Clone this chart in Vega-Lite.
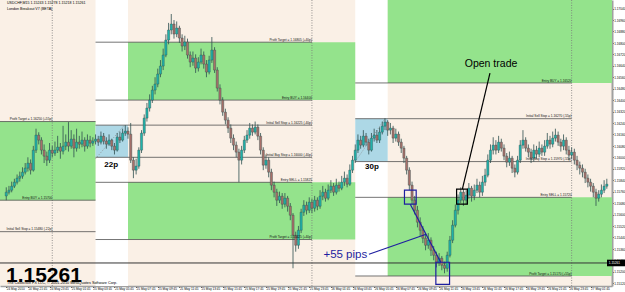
{
"$schema": "https://vega.github.io/schema/vega-lite/v6.json",
"width": 612, "height": 286,
"autosize": {"type": "none"},
"padding": {"left": 0, "top": 0, "right": 13, "bottom": 6},
"background": "#ffffff",
"resolve": {"axis": {"x": "independent", "y": "independent"}},
"config": {"font": "Liberation Sans", "view": {"stroke": null, "fill": "#FAF0E6"},
"axis": {"title": null, "grid": false, "labelFontSize": 3.1, "labelPadding": 0.2, "labelColor": "#000000", "labelOverlap": false, "labelFlush": false, "tickSize": 1.5, "tickColor": "#555555", "domainColor": "#a0a0a0"}},
"datasets": {
"zones": [
{"kind":"white","x1":"2010-05-25T04:00","x2":"2010-05-25T07:00","p1":1.1500,"p2":1.1720},
{"kind":"white","x1":"2010-05-26T04:00","x2":"2010-05-26T07:00","p1":1.15170,"p2":1.1720},
{"kind":"green","x1":"2010-05-24T18:00","x2":"2010-05-25T04:00","p1":1.15700,"p2":1.16250},
{"kind":"green","x1":"2010-05-25T07:00","x2":"2010-05-26T04:00","p1":1.16400,"p2":1.16805},
{"kind":"green","x1":"2010-05-25T07:00","x2":"2010-05-26T04:00","p1":1.15425,"p2":1.15825},
{"kind":"green","x1":"2010-05-26T07:00","x2":"2010-05-27T06:00","p1":1.16520,"p2":1.1720},
{"kind":"green","x1":"2010-05-26T07:00","x2":"2010-05-27T06:00","p1":1.15170,"p2":1.15720},
{"kind":"blue","x1":"2010-05-25T04:00","x2":"2010-05-25T07:00","p1":1.16000,"p2":1.16225},
{"kind":"blue","x1":"2010-05-26T04:00","x2":"2010-05-26T07:00","p1":1.15970,"p2":1.16270}
],
"levels": [
{"x1":"2010-05-24T18:00","x2":"2010-05-25T04:00","lx":"2010-05-25T00:00","p":1.16250,"lab":"Profit Target = 1.16250 (+55p)"},
{"x1":"2010-05-24T18:00","x2":"2010-05-25T04:00","lx":"2010-05-25T00:00","p":1.15700,"lab":"Entry BUY = 1.15700"},
{"x1":"2010-05-24T18:00","x2":"2010-05-25T04:00","lx":"2010-05-25T00:00","p":1.15480,"lab":"Initial Sell Stop = 1.15480 (-22p)"},
{"x1":"2010-05-25T04:00","x2":"2010-05-26T00:00","lx":"2010-05-26T00:00","p":1.16805,"lab":"Profit Target = 1.16805 (+40p)"},
{"x1":"2010-05-25T04:00","x2":"2010-05-26T00:00","lx":"2010-05-26T00:00","p":1.16400,"lab":"Entry BUY = 1.16400"},
{"x1":"2010-05-25T04:00","x2":"2010-05-26T00:00","lx":"2010-05-26T00:00","p":1.16225,"lab":"Initial Sell Stop = 1.16225 (-40p)"},
{"x1":"2010-05-25T04:00","x2":"2010-05-26T00:00","lx":"2010-05-26T00:00","p":1.16000,"lab":"Initial Buy Stop = 1.16000 (-40p)"},
{"x1":"2010-05-25T04:00","x2":"2010-05-26T00:00","lx":"2010-05-26T00:00","p":1.15825,"lab":"Entry SELL = 1.15825"},
{"x1":"2010-05-25T04:00","x2":"2010-05-26T00:00","lx":"2010-05-26T00:00","p":1.15425,"lab":"Profit Target = 1.15425 (+40p)"},
{"x1":"2010-05-26T04:00","x2":"2010-05-27T00:00","lx":"2010-05-27T00:00","p":1.16520,"lab":"Entry BUY = 1.16520"},
{"x1":"2010-05-26T04:00","x2":"2010-05-27T00:00","lx":"2010-05-27T00:00","p":1.16270,"lab":"Initial Sell Stop = 1.16270 (-55p)"},
{"x1":"2010-05-26T04:00","x2":"2010-05-27T00:00","lx":"2010-05-27T00:00","p":1.15970,"lab":"Initial Buy Stop = 1.15970 (-55p)"},
{"x1":"2010-05-26T04:00","x2":"2010-05-27T00:00","lx":"2010-05-27T00:00","p":1.15720,"lab":"Entry SELL = 1.15720"},
{"x1":"2010-05-26T04:00","x2":"2010-05-27T00:00","lx":"2010-05-27T00:00","p":1.15170,"lab":"Profit Target = 1.15170 (+55p)"}
],
"candles": [
{"t":"2010-05-24T19:45","o":1.15730,"h":1.15790,"l":1.15700,"c":1.15756},
{"t":"2010-05-24T20:00","o":1.15756,"h":1.15800,"l":1.15740,"c":1.15770},
{"t":"2010-05-24T20:15","o":1.15770,"h":1.15830,"l":1.15755,"c":1.15798},
{"t":"2010-05-24T20:30","o":1.15798,"h":1.15850,"l":1.15785,"c":1.15826},
{"t":"2010-05-24T20:45","o":1.15826,"h":1.15880,"l":1.15810,"c":1.15854},
{"t":"2010-05-24T21:00","o":1.15854,"h":1.15900,"l":1.15830,"c":1.15868},
{"t":"2010-05-24T21:15","o":1.15868,"h":1.15930,"l":1.15850,"c":1.15896},
{"t":"2010-05-24T21:30","o":1.15896,"h":1.15960,"l":1.15880,"c":1.15924},
{"t":"2010-05-24T21:45","o":1.15924,"h":1.16000,"l":1.15900,"c":1.15959},
{"t":"2010-05-24T22:00","o":1.15959,"h":1.15985,"l":1.15880,"c":1.15910},
{"t":"2010-05-24T22:15","o":1.15910,"h":1.16080,"l":1.15900,"c":1.16050},
{"t":"2010-05-24T22:30","o":1.16050,"h":1.16200,"l":1.16030,"c":1.16155},
{"t":"2010-05-24T22:45","o":1.16155,"h":1.16175,"l":1.16090,"c":1.16120},
{"t":"2010-05-24T23:00","o":1.16120,"h":1.16140,"l":1.16020,"c":1.16050},
{"t":"2010-05-24T23:15","o":1.16050,"h":1.16090,"l":1.15960,"c":1.16008},
{"t":"2010-05-24T23:30","o":1.16008,"h":1.16040,"l":1.15940,"c":1.15980},
{"t":"2010-05-24T23:45","o":1.15980,"h":1.16100,"l":1.15960,"c":1.16050},
{"t":"2010-05-25T00:00","o":1.16050,"h":1.16080,"l":1.16000,"c":1.16029},
{"t":"2010-05-25T00:15","o":1.16029,"h":1.16110,"l":1.16010,"c":1.16050},
{"t":"2010-05-25T00:30","o":1.16050,"h":1.16150,"l":1.16030,"c":1.16071},
{"t":"2010-05-25T00:45","o":1.16071,"h":1.16100,"l":1.15990,"c":1.16043},
{"t":"2010-05-25T01:00","o":1.16043,"h":1.16220,"l":1.16020,"c":1.16078},
{"t":"2010-05-25T01:15","o":1.16078,"h":1.16160,"l":1.16050,"c":1.16106},
{"t":"2010-05-25T01:30","o":1.16106,"h":1.16246,"l":1.16040,"c":1.16078},
{"t":"2010-05-25T01:45","o":1.16078,"h":1.16190,"l":1.16060,"c":1.16127},
{"t":"2010-05-25T02:00","o":1.16127,"h":1.16160,"l":1.16000,"c":1.16064},
{"t":"2010-05-25T02:15","o":1.16064,"h":1.16200,"l":1.16040,"c":1.16106},
{"t":"2010-05-25T02:30","o":1.16106,"h":1.16150,"l":1.16060,"c":1.16092},
{"t":"2010-05-25T02:45","o":1.16092,"h":1.16180,"l":1.16070,"c":1.16120},
{"t":"2010-05-25T03:00","o":1.16120,"h":1.16140,"l":1.16040,"c":1.16078},
{"t":"2010-05-25T03:15","o":1.16078,"h":1.16160,"l":1.16060,"c":1.16120},
{"t":"2010-05-25T03:30","o":1.16120,"h":1.16150,"l":1.16070,"c":1.16099},
{"t":"2010-05-25T03:45","o":1.16099,"h":1.16140,"l":1.16080,"c":1.16113},
{"t":"2010-05-25T04:00","o":1.16113,"h":1.16160,"l":1.16090,"c":1.16127},
{"t":"2010-05-25T04:15","o":1.16127,"h":1.16150,"l":1.16080,"c":1.16106},
{"t":"2010-05-25T04:30","o":1.16106,"h":1.16180,"l":1.16090,"c":1.16148},
{"t":"2010-05-25T04:45","o":1.16148,"h":1.16170,"l":1.16090,"c":1.16113},
{"t":"2010-05-25T05:00","o":1.16113,"h":1.16140,"l":1.16060,"c":1.16092},
{"t":"2010-05-25T05:15","o":1.16092,"h":1.16160,"l":1.16080,"c":1.16120},
{"t":"2010-05-25T05:30","o":1.16120,"h":1.16130,"l":1.16050,"c":1.16078},
{"t":"2010-05-25T05:45","o":1.16078,"h":1.16100,"l":1.16020,"c":1.16050},
{"t":"2010-05-25T06:00","o":1.16050,"h":1.16170,"l":1.16040,"c":1.16141},
{"t":"2010-05-25T06:15","o":1.16141,"h":1.16180,"l":1.16100,"c":1.16120},
{"t":"2010-05-25T06:30","o":1.16120,"h":1.16200,"l":1.16110,"c":1.16169},
{"t":"2010-05-25T06:45","o":1.16169,"h":1.16225,"l":1.16150,"c":1.16183},
{"t":"2010-05-25T07:00","o":1.16183,"h":1.16210,"l":1.16130,"c":1.16162},
{"t":"2010-05-25T07:15","o":1.16162,"h":1.16240,"l":1.15960,"c":1.15980},
{"t":"2010-05-25T07:30","o":1.15980,"h":1.16000,"l":1.15854,"c":1.15910},
{"t":"2010-05-25T07:45","o":1.15910,"h":1.15990,"l":1.15880,"c":1.15938},
{"t":"2010-05-25T08:00","o":1.15938,"h":1.16070,"l":1.15920,"c":1.16050},
{"t":"2010-05-25T08:15","o":1.16050,"h":1.16190,"l":1.16030,"c":1.16169},
{"t":"2010-05-25T08:30","o":1.16169,"h":1.16300,"l":1.16150,"c":1.16274},
{"t":"2010-05-25T08:45","o":1.16274,"h":1.16380,"l":1.16250,"c":1.16344},
{"t":"2010-05-25T09:00","o":1.16344,"h":1.16440,"l":1.16320,"c":1.16400},
{"t":"2010-05-25T09:15","o":1.16400,"h":1.16500,"l":1.16380,"c":1.16470},
{"t":"2010-05-25T09:30","o":1.16470,"h":1.16560,"l":1.16440,"c":1.16512},
{"t":"2010-05-25T09:45","o":1.16512,"h":1.16620,"l":1.16490,"c":1.16582},
{"t":"2010-05-25T10:00","o":1.16582,"h":1.16680,"l":1.16560,"c":1.16638},
{"t":"2010-05-25T10:15","o":1.16638,"h":1.16760,"l":1.16610,"c":1.16715},
{"t":"2010-05-25T10:30","o":1.16715,"h":1.16860,"l":1.16700,"c":1.16820},
{"t":"2010-05-25T10:45","o":1.16820,"h":1.16940,"l":1.16790,"c":1.16890},
{"t":"2010-05-25T11:00","o":1.16890,"h":1.17002,"l":1.16860,"c":1.16932},
{"t":"2010-05-25T11:15","o":1.16932,"h":1.16960,"l":1.16830,"c":1.16862},
{"t":"2010-05-25T11:30","o":1.16862,"h":1.16950,"l":1.16840,"c":1.16904},
{"t":"2010-05-25T11:45","o":1.16904,"h":1.16920,"l":1.16800,"c":1.16834},
{"t":"2010-05-25T12:00","o":1.16834,"h":1.16860,"l":1.16740,"c":1.16778},
{"t":"2010-05-25T12:15","o":1.16778,"h":1.16850,"l":1.16750,"c":1.16806},
{"t":"2010-05-25T12:30","o":1.16806,"h":1.16830,"l":1.16690,"c":1.16715},
{"t":"2010-05-25T12:45","o":1.16715,"h":1.16740,"l":1.16630,"c":1.16666},
{"t":"2010-05-25T13:00","o":1.16666,"h":1.16740,"l":1.16640,"c":1.16694},
{"t":"2010-05-25T13:15","o":1.16694,"h":1.16720,"l":1.16590,"c":1.16624},
{"t":"2010-05-25T13:30","o":1.16624,"h":1.16700,"l":1.16600,"c":1.16666},
{"t":"2010-05-25T13:45","o":1.16666,"h":1.16760,"l":1.16650,"c":1.16715},
{"t":"2010-05-25T14:00","o":1.16715,"h":1.16740,"l":1.16620,"c":1.16652},
{"t":"2010-05-25T14:15","o":1.16652,"h":1.16680,"l":1.16560,"c":1.16596},
{"t":"2010-05-25T14:30","o":1.16596,"h":1.16710,"l":1.16580,"c":1.16680},
{"t":"2010-05-25T14:45","o":1.16680,"h":1.16841,"l":1.16660,"c":1.16750},
{"t":"2010-05-25T15:00","o":1.16750,"h":1.16770,"l":1.16590,"c":1.16610},
{"t":"2010-05-25T15:15","o":1.16610,"h":1.16630,"l":1.16460,"c":1.16484},
{"t":"2010-05-25T15:30","o":1.16484,"h":1.16510,"l":1.16370,"c":1.16400},
{"t":"2010-05-25T15:45","o":1.16400,"h":1.16420,"l":1.16290,"c":1.16316},
{"t":"2010-05-25T16:00","o":1.16316,"h":1.16340,"l":1.16230,"c":1.16260},
{"t":"2010-05-25T16:15","o":1.16260,"h":1.16280,"l":1.16170,"c":1.16204},
{"t":"2010-05-25T16:30","o":1.16204,"h":1.16230,"l":1.16100,"c":1.16134},
{"t":"2010-05-25T16:45","o":1.16134,"h":1.16160,"l":1.16050,"c":1.16085},
{"t":"2010-05-25T17:00","o":1.16085,"h":1.16110,"l":1.16000,"c":1.16036},
{"t":"2010-05-25T17:15","o":1.16036,"h":1.16060,"l":1.15826,"c":1.15980},
{"t":"2010-05-25T17:30","o":1.15980,"h":1.16080,"l":1.15950,"c":1.16050},
{"t":"2010-05-25T17:45","o":1.16050,"h":1.16150,"l":1.16030,"c":1.16120},
{"t":"2010-05-25T18:00","o":1.16120,"h":1.16190,"l":1.16100,"c":1.16155},
{"t":"2010-05-25T18:15","o":1.16155,"h":1.16240,"l":1.16130,"c":1.16204},
{"t":"2010-05-25T18:30","o":1.16204,"h":1.16230,"l":1.16150,"c":1.16176},
{"t":"2010-05-25T18:45","o":1.16176,"h":1.16250,"l":1.16160,"c":1.16211},
{"t":"2010-05-25T19:00","o":1.16211,"h":1.16230,"l":1.16120,"c":1.16148},
{"t":"2010-05-25T19:15","o":1.16148,"h":1.16170,"l":1.16020,"c":1.16050},
{"t":"2010-05-25T19:30","o":1.16050,"h":1.16070,"l":1.15910,"c":1.15945},
{"t":"2010-05-25T19:45","o":1.15945,"h":1.16020,"l":1.15920,"c":1.15980},
{"t":"2010-05-25T20:00","o":1.15980,"h":1.16000,"l":1.15860,"c":1.15896},
{"t":"2010-05-25T20:15","o":1.15896,"h":1.15920,"l":1.15770,"c":1.15805},
{"t":"2010-05-25T20:30","o":1.15805,"h":1.15830,"l":1.15720,"c":1.15756},
{"t":"2010-05-25T20:45","o":1.15756,"h":1.15780,"l":1.15660,"c":1.15700},
{"t":"2010-05-25T21:00","o":1.15700,"h":1.15760,"l":1.15680,"c":1.15728},
{"t":"2010-05-25T21:15","o":1.15728,"h":1.15750,"l":1.15640,"c":1.15672},
{"t":"2010-05-25T21:30","o":1.15672,"h":1.15750,"l":1.15650,"c":1.15714},
{"t":"2010-05-25T21:45","o":1.15714,"h":1.15730,"l":1.15620,"c":1.15658},
{"t":"2010-05-25T22:00","o":1.15658,"h":1.15680,"l":1.15560,"c":1.15595},
{"t":"2010-05-25T22:15","o":1.15595,"h":1.15610,"l":1.15224,"c":1.15455},
{"t":"2010-05-25T22:30","o":1.15455,"h":1.15480,"l":1.15340,"c":1.15385},
{"t":"2010-05-25T22:45","o":1.15385,"h":1.15520,"l":1.15360,"c":1.15490},
{"t":"2010-05-25T23:00","o":1.15490,"h":1.15640,"l":1.15470,"c":1.15616},
{"t":"2010-05-25T23:15","o":1.15616,"h":1.15700,"l":1.15590,"c":1.15665},
{"t":"2010-05-25T23:30","o":1.15665,"h":1.15690,"l":1.15600,"c":1.15630},
{"t":"2010-05-25T23:45","o":1.15630,"h":1.15720,"l":1.15610,"c":1.15686},
{"t":"2010-05-26T00:00","o":1.15686,"h":1.15710,"l":1.15610,"c":1.15644},
{"t":"2010-05-26T00:15","o":1.15644,"h":1.15730,"l":1.15620,"c":1.15700},
{"t":"2010-05-26T00:30","o":1.15700,"h":1.15720,"l":1.15630,"c":1.15658},
{"t":"2010-05-26T00:45","o":1.15658,"h":1.15770,"l":1.15640,"c":1.15728},
{"t":"2010-05-26T01:00","o":1.15728,"h":1.15800,"l":1.15700,"c":1.15756},
{"t":"2010-05-26T01:15","o":1.15756,"h":1.15780,"l":1.15690,"c":1.15714},
{"t":"2010-05-26T01:30","o":1.15714,"h":1.15810,"l":1.15700,"c":1.15770},
{"t":"2010-05-26T01:45","o":1.15770,"h":1.15840,"l":1.15750,"c":1.15798},
{"t":"2010-05-26T02:00","o":1.15798,"h":1.15820,"l":1.15730,"c":1.15756},
{"t":"2010-05-26T02:15","o":1.15756,"h":1.15850,"l":1.15740,"c":1.15805},
{"t":"2010-05-26T02:30","o":1.15805,"h":1.15830,"l":1.15760,"c":1.15784},
{"t":"2010-05-26T02:45","o":1.15784,"h":1.15870,"l":1.15770,"c":1.15826},
{"t":"2010-05-26T03:00","o":1.15826,"h":1.15900,"l":1.15800,"c":1.15854},
{"t":"2010-05-26T03:15","o":1.15854,"h":1.15880,"l":1.15790,"c":1.15812},
{"t":"2010-05-26T03:30","o":1.15812,"h":1.15950,"l":1.15800,"c":1.15910},
{"t":"2010-05-26T03:45","o":1.15910,"h":1.16010,"l":1.15890,"c":1.15980},
{"t":"2010-05-26T04:00","o":1.15980,"h":1.16090,"l":1.15960,"c":1.16050},
{"t":"2010-05-26T04:15","o":1.16050,"h":1.16160,"l":1.16030,"c":1.16120},
{"t":"2010-05-26T04:30","o":1.16120,"h":1.16150,"l":1.16060,"c":1.16085},
{"t":"2010-05-26T04:45","o":1.16085,"h":1.16190,"l":1.16070,"c":1.16148},
{"t":"2010-05-26T05:00","o":1.16148,"h":1.16170,"l":1.16080,"c":1.16106},
{"t":"2010-05-26T05:15","o":1.16106,"h":1.16130,"l":1.16020,"c":1.16050},
{"t":"2010-05-26T05:30","o":1.16050,"h":1.16170,"l":1.16040,"c":1.16134},
{"t":"2010-05-26T05:45","o":1.16134,"h":1.16200,"l":1.16110,"c":1.16155},
{"t":"2010-05-26T06:00","o":1.16155,"h":1.16190,"l":1.16100,"c":1.16120},
{"t":"2010-05-26T06:15","o":1.16120,"h":1.16210,"l":1.16100,"c":1.16176},
{"t":"2010-05-26T06:30","o":1.16176,"h":1.16250,"l":1.16160,"c":1.16218},
{"t":"2010-05-26T06:45","o":1.16218,"h":1.16274,"l":1.16190,"c":1.16246},
{"t":"2010-05-26T07:00","o":1.16246,"h":1.16260,"l":1.16150,"c":1.16190},
{"t":"2010-05-26T07:15","o":1.16190,"h":1.16240,"l":1.16160,"c":1.16204},
{"t":"2010-05-26T07:30","o":1.16204,"h":1.16220,"l":1.16100,"c":1.16134},
{"t":"2010-05-26T07:45","o":1.16134,"h":1.16200,"l":1.16110,"c":1.16162},
{"t":"2010-05-26T08:00","o":1.16162,"h":1.16180,"l":1.16080,"c":1.16106},
{"t":"2010-05-26T08:15","o":1.16106,"h":1.16130,"l":1.16030,"c":1.16064},
{"t":"2010-05-26T08:30","o":1.16064,"h":1.16080,"l":1.15960,"c":1.15994},
{"t":"2010-05-26T08:45","o":1.15994,"h":1.16010,"l":1.15880,"c":1.15910},
{"t":"2010-05-26T09:00","o":1.15910,"h":1.15930,"l":1.15770,"c":1.15805},
{"t":"2010-05-26T09:15","o":1.15805,"h":1.15830,"l":1.15670,"c":1.15700},
{"t":"2010-05-26T09:30","o":1.15700,"h":1.15730,"l":1.15600,"c":1.15630},
{"t":"2010-05-26T09:45","o":1.15630,"h":1.15660,"l":1.15510,"c":1.15546},
{"t":"2010-05-26T10:00","o":1.15546,"h":1.15580,"l":1.15450,"c":1.15490},
{"t":"2010-05-26T10:15","o":1.15490,"h":1.15520,"l":1.15400,"c":1.15434},
{"t":"2010-05-26T10:30","o":1.15434,"h":1.15460,"l":1.15350,"c":1.15385},
{"t":"2010-05-26T10:45","o":1.15385,"h":1.15470,"l":1.15360,"c":1.15420},
{"t":"2010-05-26T11:00","o":1.15420,"h":1.15440,"l":1.15310,"c":1.15350},
{"t":"2010-05-26T11:15","o":1.15350,"h":1.15380,"l":1.15280,"c":1.15315},
{"t":"2010-05-26T11:30","o":1.15315,"h":1.15340,"l":1.15230,"c":1.15266},
{"t":"2010-05-26T11:45","o":1.15266,"h":1.15330,"l":1.15240,"c":1.15294},
{"t":"2010-05-26T12:00","o":1.15294,"h":1.15310,"l":1.15210,"c":1.15245},
{"t":"2010-05-26T12:15","o":1.15245,"h":1.15270,"l":1.15189,"c":1.15224},
{"t":"2010-05-26T12:30","o":1.15224,"h":1.15340,"l":1.15200,"c":1.15315},
{"t":"2010-05-26T12:45","o":1.15315,"h":1.15450,"l":1.15300,"c":1.15420},
{"t":"2010-05-26T13:00","o":1.15420,"h":1.15560,"l":1.15400,"c":1.15525},
{"t":"2010-05-26T13:15","o":1.15525,"h":1.15670,"l":1.15510,"c":1.15630},
{"t":"2010-05-26T13:30","o":1.15630,"h":1.15740,"l":1.15600,"c":1.15700},
{"t":"2010-05-26T13:45","o":1.15700,"h":1.15790,"l":1.15680,"c":1.15756},
{"t":"2010-05-26T14:00","o":1.15756,"h":1.15780,"l":1.15660,"c":1.15700},
{"t":"2010-05-26T14:15","o":1.15700,"h":1.15770,"l":1.15670,"c":1.15735},
{"t":"2010-05-26T14:30","o":1.15735,"h":1.15820,"l":1.15710,"c":1.15784},
{"t":"2010-05-26T14:45","o":1.15784,"h":1.15800,"l":1.15690,"c":1.15728},
{"t":"2010-05-26T15:00","o":1.15728,"h":1.15810,"l":1.15700,"c":1.15770},
{"t":"2010-05-26T15:15","o":1.15770,"h":1.15850,"l":1.15750,"c":1.15805},
{"t":"2010-05-26T15:30","o":1.15805,"h":1.15830,"l":1.15720,"c":1.15756},
{"t":"2010-05-26T15:45","o":1.15756,"h":1.15870,"l":1.15730,"c":1.15826},
{"t":"2010-05-26T16:00","o":1.15826,"h":1.15920,"l":1.15800,"c":1.15875},
{"t":"2010-05-26T16:15","o":1.15875,"h":1.16020,"l":1.15860,"c":1.15980},
{"t":"2010-05-26T16:30","o":1.15980,"h":1.16090,"l":1.15960,"c":1.16050},
{"t":"2010-05-26T16:45","o":1.16050,"h":1.16140,"l":1.16020,"c":1.16085},
{"t":"2010-05-26T17:00","o":1.16085,"h":1.16120,"l":1.16020,"c":1.16050},
{"t":"2010-05-26T17:15","o":1.16050,"h":1.16150,"l":1.16030,"c":1.16106},
{"t":"2010-05-26T17:30","o":1.16106,"h":1.16130,"l":1.16040,"c":1.16064},
{"t":"2010-05-26T17:45","o":1.16064,"h":1.16090,"l":1.15980,"c":1.16008},
{"t":"2010-05-26T18:00","o":1.16008,"h":1.16030,"l":1.15930,"c":1.15966},
{"t":"2010-05-26T18:15","o":1.15966,"h":1.16040,"l":1.15940,"c":1.15994},
{"t":"2010-05-26T18:30","o":1.15994,"h":1.16010,"l":1.15890,"c":1.15924},
{"t":"2010-05-26T18:45","o":1.15924,"h":1.15950,"l":1.15860,"c":1.15896},
{"t":"2010-05-26T19:00","o":1.15896,"h":1.16010,"l":1.15880,"c":1.15980},
{"t":"2010-05-26T19:15","o":1.15980,"h":1.16120,"l":1.15960,"c":1.16085},
{"t":"2010-05-26T19:30","o":1.16085,"h":1.16190,"l":1.16060,"c":1.16120},
{"t":"2010-05-26T19:45","o":1.16120,"h":1.16140,"l":1.16040,"c":1.16064},
{"t":"2010-05-26T20:00","o":1.16064,"h":1.16090,"l":1.16000,"c":1.16036},
{"t":"2010-05-26T20:15","o":1.16036,"h":1.16060,"l":1.15960,"c":1.15994},
{"t":"2010-05-26T20:30","o":1.15994,"h":1.16090,"l":1.15970,"c":1.16050},
{"t":"2010-05-26T20:45","o":1.16050,"h":1.16080,"l":1.15990,"c":1.16022},
{"t":"2010-05-26T21:00","o":1.16022,"h":1.16110,"l":1.16000,"c":1.16064},
{"t":"2010-05-26T21:15","o":1.16064,"h":1.16090,"l":1.16010,"c":1.16036},
{"t":"2010-05-26T21:30","o":1.16036,"h":1.16120,"l":1.16010,"c":1.16078},
{"t":"2010-05-26T21:45","o":1.16078,"h":1.16170,"l":1.16060,"c":1.16120},
{"t":"2010-05-26T22:00","o":1.16120,"h":1.16150,"l":1.16060,"c":1.16092},
{"t":"2010-05-26T22:15","o":1.16092,"h":1.16180,"l":1.16070,"c":1.16134},
{"t":"2010-05-26T22:30","o":1.16134,"h":1.16200,"l":1.16110,"c":1.16155},
{"t":"2010-05-26T22:45","o":1.16155,"h":1.16180,"l":1.16080,"c":1.16106},
{"t":"2010-05-26T23:00","o":1.16106,"h":1.16130,"l":1.16040,"c":1.16078},
{"t":"2010-05-26T23:15","o":1.16078,"h":1.16160,"l":1.16050,"c":1.16120},
{"t":"2010-05-26T23:30","o":1.16120,"h":1.16140,"l":1.16020,"c":1.16050},
{"t":"2010-05-26T23:45","o":1.16050,"h":1.16080,"l":1.15980,"c":1.16015},
{"t":"2010-05-27T00:00","o":1.16015,"h":1.16070,"l":1.15990,"c":1.16036},
{"t":"2010-05-27T00:15","o":1.16036,"h":1.16060,"l":1.15950,"c":1.15980},
{"t":"2010-05-27T00:30","o":1.15980,"h":1.16010,"l":1.15910,"c":1.15945},
{"t":"2010-05-27T00:45","o":1.15945,"h":1.15970,"l":1.15880,"c":1.15924},
{"t":"2010-05-27T01:00","o":1.15924,"h":1.15950,"l":1.15860,"c":1.15896},
{"t":"2010-05-27T01:15","o":1.15896,"h":1.15920,"l":1.15820,"c":1.15854},
{"t":"2010-05-27T01:30","o":1.15854,"h":1.15880,"l":1.15790,"c":1.15826},
{"t":"2010-05-27T01:45","o":1.15826,"h":1.15850,"l":1.15760,"c":1.15798},
{"t":"2010-05-27T02:00","o":1.15798,"h":1.15820,"l":1.15720,"c":1.15756},
{"t":"2010-05-27T02:15","o":1.15756,"h":1.15780,"l":1.15660,"c":1.15714},
{"t":"2010-05-27T02:30","o":1.15714,"h":1.15770,"l":1.15690,"c":1.15742},
{"t":"2010-05-27T02:45","o":1.15742,"h":1.15810,"l":1.15720,"c":1.15770},
{"t":"2010-05-27T03:00","o":1.15770,"h":1.15840,"l":1.15750,"c":1.15798},
{"t":"2010-05-27T03:15","o":1.15798,"h":1.15850,"l":1.15780,"c":1.15812}
]
},
"layer": [
{
"data": {"name": "zones"},
"mark": {"type": "rect", "clip": true},
"encoding": {
"x": {"field": "x1", "type": "temporal",
"scale": {"domain": [{"year":2010,"month":5,"date":24,"hours":19,"minutes":38},{"year":2010,"month":5,"date":27,"hours":3,"minutes":16}]},
"axis": {"orient": "bottom", "title": null, "labelOverlap": false, "labelFlush": false, "labelBound": false,
"values": [
{"year":2010,"month":5,"date":24,"hours":19,"minutes":45},
{"year":2010,"month":5,"date":24,"hours":21,"minutes":45},
{"year":2010,"month":5,"date":24,"hours":23,"minutes":45},
{"year":2010,"month":5,"date":25,"hours":1,"minutes":45},
{"year":2010,"month":5,"date":25,"hours":3,"minutes":45},
{"year":2010,"month":5,"date":25,"hours":5,"minutes":45},
{"year":2010,"month":5,"date":25,"hours":7,"minutes":45},
{"year":2010,"month":5,"date":25,"hours":9,"minutes":45},
{"year":2010,"month":5,"date":25,"hours":11,"minutes":45},
{"year":2010,"month":5,"date":25,"hours":13,"minutes":45},
{"year":2010,"month":5,"date":25,"hours":15,"minutes":45},
{"year":2010,"month":5,"date":25,"hours":17,"minutes":45},
{"year":2010,"month":5,"date":25,"hours":19,"minutes":45},
{"year":2010,"month":5,"date":25,"hours":21,"minutes":45},
{"year":2010,"month":5,"date":25,"hours":23,"minutes":45},
{"year":2010,"month":5,"date":26,"hours":1,"minutes":45},
{"year":2010,"month":5,"date":26,"hours":3,"minutes":45},
{"year":2010,"month":5,"date":26,"hours":5,"minutes":45},
{"year":2010,"month":5,"date":26,"hours":7,"minutes":45},
{"year":2010,"month":5,"date":26,"hours":9,"minutes":45},
{"year":2010,"month":5,"date":26,"hours":11,"minutes":45},
{"year":2010,"month":5,"date":26,"hours":13,"minutes":45},
{"year":2010,"month":5,"date":26,"hours":15,"minutes":45},
{"year":2010,"month":5,"date":26,"hours":17,"minutes":45},
{"year":2010,"month":5,"date":26,"hours":19,"minutes":45},
{"year":2010,"month":5,"date":26,"hours":21,"minutes":45},
{"year":2010,"month":5,"date":26,"hours":23,"minutes":45},
{"year":2010,"month":5,"date":27,"hours":1,"minutes":45}
],
"format": "%d %b %H:%M",
"labelExpr": "timeFormat(datum.value, '%d %H:%M') == '24 19:45' ? '24 May 2010' : timeFormat(datum.value, '%d %b %H:%M')",
"labelAlign": "left", "domainWidth": 1.5}},
"x2": {"field": "x2"},
"y": {"field": "p1", "type": "quantitative",
"scale": {"domain": [1.151, 1.171], "nice": false, "zero": false},
"axis": {"orient": "right", "title": null, "labelOverlap": false, "labelFlush": false, "labelBound": false,
"values": [1.1512,1.1520,1.1528,1.1536,1.1544,1.1552,1.1560,1.1568,1.1576,1.1584,1.1592,1.1600,1.1608,1.1616,1.1624,1.1632,1.1640,1.1648,1.1656,1.1664,1.1672,1.1680,1.1688,1.1696,1.1704],
"format": ".5f", "domainWidth": 2}},
"y2": {"field": "p2"},
"color": {"field": "kind", "type": "nominal",
"scale": {"domain": ["white", "green", "blue"], "range": ["#ffffff", "#94E38C", "#ADD8E6"]}, "legend": null}
}
},
{
"data": {"values": [
{"x1":"2010-05-25T04:00","x2":"2010-05-25T06:40","p1":1.15990,"p2":1.16225},
{"x1":"2010-05-26T04:00","x2":"2010-05-26T06:45","p1":1.15970,"p2":1.16270}
]},
"mark": {"type": "rule", "color": "#8a8a8a", "strokeDash": [1, 1.5], "strokeWidth": 0.8, "clip": true},
"encoding": {
"x": {"field": "x1", "type": "temporal", "axis": null},
"x2": {"field": "x2"},
"y": {"field": "p1", "type": "quantitative", "axis": null},
"y2": {"field": "p2"}
}
},
{
"data": {"values": [{"t":"2010-05-25T00:00"},{"t":"2010-05-26T00:00"},{"t":"2010-05-27T00:00"}]},
"mark": {"type": "rule", "color": "#7a7a7a", "strokeDash": [1, 1.5], "strokeWidth": 0.8},
"encoding": {"x": {"field": "t", "type": "temporal", "axis": null}}
},
{
"data": {"name": "levels"},
"mark": {"type": "rule", "color": "#505050", "strokeWidth": 0.8, "clip": true},
"encoding": {
"x": {"field": "x1", "type": "temporal", "axis": null},
"x2": {"field": "x2"},
"y": {"field": "p", "type": "quantitative", "axis": null}
}
},
{
"data": {"values": [{"p": 1.15261}]},
"mark": {"type": "rule", "color": "#333333", "strokeWidth": 1},
"encoding": {"y": {"field": "p", "type": "quantitative", "axis": null}}
},
{
"data": {"name": "candles"},
"mark": {"type": "rule", "color": "#2F4F4F", "strokeWidth": 0.8, "clip": true},
"encoding": {
"x": {"field": "t", "type": "temporal", "axis": null},
"y": {"field": "l", "type": "quantitative", "axis": null},
"y2": {"field": "h"}
}
},
{
"data": {"name": "candles"},
"mark": {"type": "bar", "width": 2.2, "stroke": "#2F4F4F", "strokeWidth": 0.4, "clip": true},
"encoding": {
"x": {"field": "t", "type": "temporal", "axis": null},
"y": {"field": "o", "type": "quantitative", "axis": null},
"y2": {"field": "c"},
"color": {"condition": {"test": "datum.c >= datum.o", "value": "#20B2AA"}, "value": "#A8706A"}
}
},
{
"data": {"name": "levels"},
"mark": {"type": "text", "align": "right", "baseline": "bottom", "dy": -0.3, "fontSize": 3.2, "color": "#111111"},
"encoding": {
"x": {"field": "lx", "type": "temporal", "axis": null},
"y": {"field": "p", "type": "quantitative", "axis": null},
"text": {"field": "lab"}
}
},
{
"data": {"values": [
{"t":"2010-05-25T05:27","p":1.15945,"txt":"22p"},
{"t":"2010-05-26T05:33","p":1.15931,"txt":"30p"}
]},
"mark": {"type": "text", "fontSize": 8, "fontWeight": "bold", "color": "#000000", "baseline": "middle"},
"encoding": {
"x": {"field": "t", "type": "temporal", "axis": null},
"y": {"field": "p", "type": "quantitative", "axis": null},
"text": {"field": "txt"}
}
},
{
"data": {"values": [
{"k":"navy","x1":"2010-05-26T08:33","x2":"2010-05-26T09:38","p1":1.15672,"p2":1.15770},
{"k":"navy","x1":"2010-05-26T11:27","x2":"2010-05-26T12:43","p1":1.15112,"p2":1.15266},
{"k":"black","x1":"2010-05-26T13:22","x2":"2010-05-26T14:22","p1":1.15672,"p2":1.15777}
]},
"mark": {"type": "rect", "fill": "transparent", "strokeWidth": 1.2},
"encoding": {
"x": {"field": "x1", "type": "temporal", "axis": null},
"x2": {"field": "x2"},
"y": {"field": "p1", "type": "quantitative", "axis": null},
"y2": {"field": "p2"},
"stroke": {"field": "k", "type": "nominal", "scale": {"domain": ["navy", "black"], "range": ["#1E1EA0", "#000000"]}, "legend": null}
}
},
{
"data": {"values": [
{"k":"navy","x1":"2010-05-26T09:05","x2":"2010-05-26T11:54","p1":1.15672,"p2":1.15266},
{"k":"navy","x1":"2010-05-26T05:16","x2":"2010-05-26T10:33","p1":1.15322,"p2":1.15462},
{"k":"black","x1":"2010-05-26T16:27","x2":"2010-05-26T13:54","p1":1.16589,"p2":1.15777}
]},
"mark": {"type": "rule", "strokeWidth": 1.2},
"encoding": {
"x": {"field": "x1", "type": "temporal", "axis": null},
"x2": {"field": "x2"},
"y": {"field": "p1", "type": "quantitative", "axis": null},
"y2": {"field": "p2"},
"stroke": {"field": "k", "type": "nominal", "legend": null}
}
},
{
"data": {"values": [{"t":"2010-05-26T03:05","p":1.15315,"txt":"+55 pips"}]},
"mark": {"type": "text", "fontSize": 11.5, "color": "#1E1EA0", "baseline": "middle", "align": "center"},
"encoding": {
"x": {"field": "t", "type": "temporal", "axis": null},
"y": {"field": "p", "type": "quantitative", "axis": null},
"text": {"field": "txt"}
}
},
{
"data": {"values": [{"t":"2010-05-26T16:33","p":1.16652,"txt":"Open trade"}]},
"mark": {"type": "text", "fontSize": 10.5, "color": "#000000", "baseline": "middle", "align": "center"},
"encoding": {
"x": {"field": "t", "type": "temporal", "axis": null},
"y": {"field": "p", "type": "quantitative", "axis": null},
"text": {"field": "txt"}
}
},
{
"data": {"values": [
{"t":"2010-05-24T19:38","p":1.17079,"txt":"USDCHF,M15  1.15243 1.15278 1.15218 1.15261"},
{"t":"2010-05-24T19:38","p":1.17037,"txt":"London Breakout V7 (BETA)"}
]},
"mark": {"type": "text", "fontSize": 3.6, "color": "#000000", "baseline": "middle", "align": "left", "dx": 2},
"encoding": {
"x": {"field": "t", "type": "temporal", "axis": null},
"y": {"field": "p", "type": "quantitative", "axis": null},
"text": {"field": "txt"}
}
},
{
"data": {"values": [{"t":"2010-05-24T19:38","p":1.15128,"txt":"1.15261"}]},
"mark": {"type": "text", "fontSize": 21, "fontWeight": "bold", "color": "#000000", "baseline": "alphabetic", "align": "left", "dx": 1},
"encoding": {
"x": {"field": "t", "type": "temporal", "axis": null},
"y": {"field": "p", "type": "quantitative", "axis": null},
"text": {"field": "txt"}
}
},
{
"data": {"values": [{"t":"2010-05-24T19:38","p":1.15104,"txt":"The Collective FX LLC, © 2001-2010 MetaQuotes Software Corp."}]},
"mark": {"type": "text", "fontSize": 3.8, "color": "#000000", "baseline": "bottom", "align": "left", "dx": 2},
"encoding": {
"x": {"field": "t", "type": "temporal", "axis": null},
"y": {"field": "p", "type": "quantitative", "axis": null},
"text": {"field": "txt"}
}
},
{
"data": {"values": [{"x1":"2010-05-27T03:16","x2":"2010-05-27T05:00","p1":1.15238,"p2":1.15284}]},
"mark": {"type": "rect", "color": "#000000", "clip": false},
"encoding": {
"x": {"field": "x1", "type": "temporal", "axis": null},
"x2": {"field": "x2"},
"y": {"field": "p1", "type": "quantitative", "axis": null},
"y2": {"field": "p2"}
}
},
{
"data": {"values": [{"t":"2010-05-27T03:16","p":1.15261,"txt":"1.15261"}]},
"mark": {"type": "text", "fontSize": 3.1, "color": "#ffffff", "baseline": "middle", "align": "left", "dx": 1.8, "clip": false},
"encoding": {
"x": {"field": "t", "type": "temporal", "axis": null},
"y": {"field": "p", "type": "quantitative", "axis": null},
"text": {"field": "txt"}
}
}
]
}
